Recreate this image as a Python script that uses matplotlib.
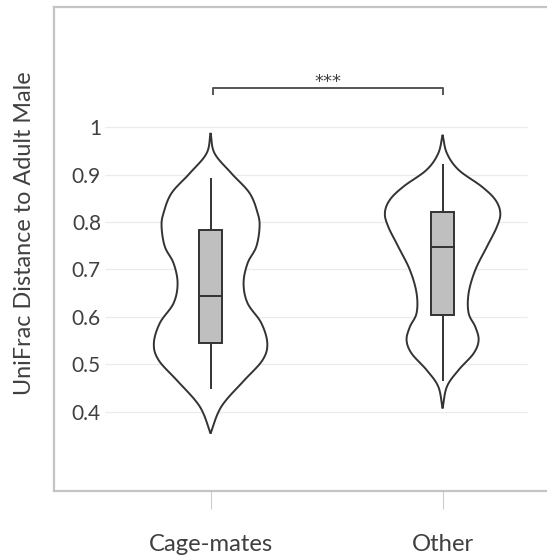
import numpy as np
import matplotlib
matplotlib.use("Agg")
import matplotlib.pyplot as plt

# ---------------- data ----------------
categories = ["Cage-mates", "Other"]
yticks = [0.4, 0.5, 0.6, 0.7, 0.8, 0.9, 1.0]
ytick_labels = ["0.4", "0.5", "0.6", "0.7", "0.8", "0.9", "1"]
ylabel = "UniFrac Distance to Adult Male"
significance = "***"

# violin outlines: value levels and relative density (max = 1)
cage_profile_y = [0.988, 0.945, 0.903, 0.861, 0.819, 0.790, 0.748, 0.713, 0.671,
                  0.629, 0.587, 0.544, 0.509, 0.467, 0.425, 0.397, 0.354]
cage_profile_d = [0.0, 0.069, 0.359, 0.676, 0.815, 0.849, 0.792, 0.641, 0.572,
                  0.641, 0.879, 0.983, 0.901, 0.589, 0.272, 0.127, 0.0]
other_profile_y = [0.984, 0.945, 0.910, 0.875, 0.847, 0.819, 0.790, 0.748, 0.699,
                   0.650, 0.608, 0.579, 0.551, 0.523, 0.488, 0.453, 0.407]
other_profile_d = [0.0, 0.075, 0.277, 0.676, 0.913, 1.0, 0.941, 0.768, 0.567,
                   0.451, 0.451, 0.567, 0.624, 0.537, 0.277, 0.075, 0.0]

# box plot statistics
q1 = [0.544, 0.604]
median = [0.645, 0.748]
q3 = [0.783, 0.821]
whisker_low = [0.451, 0.468]
whisker_high = [0.890, 0.920]

# ---------------- styling ----------------
FONT = ["Lato", "DejaVu Sans"]
plt.rcParams["font.family"] = FONT
LINE = "#333333"
TEXT = "#404040"
BOX_FILL = "#bfbfbf"
GRID = "#ebebeb"
SPINE = "#c4c4c4"
violin_half_width = 0.2487
box_half_width = 0.05


def catmull_rom(px, py, n=20):
    px = np.asarray(px, float)
    py = np.asarray(py, float)
    P = np.column_stack([px, py])
    P = np.vstack([P[0] * 2 - P[1], P, P[-1] * 2 - P[-2]])
    out = []
    t = np.linspace(0, 1, n, endpoint=False)[:, None]
    for i in range(1, len(P) - 2):
        p0, p1, p2, p3 = P[i - 1], P[i], P[i + 1], P[i + 2]
        seg = 0.5 * ((2 * p1) + (-p0 + p2) * t + (2 * p0 - 5 * p1 + 4 * p2 - p3) * t ** 2
                     + (-p0 + 3 * p1 - 3 * p2 + p3) * t ** 3)
        out.append(seg)
    out.append(P[-2][None, :])
    out = np.vstack(out)
    return out[:, 0], out[:, 1]


fig = plt.figure(figsize=(5.47, 5.56), dpi=100)
ax = fig.add_axes([53.5 / 547, 1 - 490.5 / 556, 1 - 53.5 / 547, (490.5 - 6.7) / 556])
ax.set_xlim(-0.677, 1.45)
ax.set_ylim(0.234, 1.254)

# gridlines
ax.hlines(yticks, -0.455, 1.364, color=GRID, lw=0.9, zorder=0)

profiles = [(cage_profile_y, cage_profile_d), (other_profile_y, other_profile_d)]
for i, (py, pd_) in enumerate(profiles):
    yy, dd = catmull_rom(py, pd_, n=30)
    dd = np.clip(dd, 0, None)
    xs = np.concatenate([i - dd * violin_half_width, (i + dd * violin_half_width)[::-1]])
    ys = np.concatenate([yy, yy[::-1]])
    ax.fill(xs, ys, facecolor="white", edgecolor=LINE, lw=1.4, zorder=2)
    # whiskers
    ax.plot([i, i], [whisker_low[i], q1[i]], color=LINE, lw=1.4, zorder=3)
    ax.plot([i, i], [q3[i], whisker_high[i]], color=LINE, lw=1.4, zorder=3)
    # box
    ax.add_patch(plt.Rectangle((i - box_half_width, q1[i]), 2 * box_half_width, q3[i] - q1[i],
                               facecolor=BOX_FILL, edgecolor=LINE, lw=1.4, zorder=4))
    ax.plot([i - box_half_width, i + box_half_width], [median[i], median[i]],
            color=LINE, lw=1.4, zorder=5)

# significance bracket
bx0, bx1 = 0.01, 1.0
ax.plot([bx0, bx0, bx1, bx1], [1.068, 1.083, 1.083, 1.068], color="#555555", lw=1.4,
        zorder=3, solid_capstyle="butt")
ax.text((bx0 + bx1) / 2, 1.084, significance, ha="center", va="baseline",
        fontsize=13, color=TEXT, family=["DejaVu Sans"])

# axes styling
for side in ["left", "top", "bottom"]:
    ax.spines[side].set_color(SPINE)
    ax.spines[side].set_linewidth(1.6)
ax.spines["right"].set_visible(False)

ax.set_yticks(yticks)
ax.set_yticklabels(ytick_labels)
ax.tick_params(axis="y", length=0, pad=-34.2, labelsize=15, labelcolor=TEXT)
ax.set_xticks([0, 1])
ax.set_xticklabels(categories)
ax.tick_params(axis="x", length=13, width=0.8, color="#cccccc", pad=18,
               labelsize=17.2, labelcolor=TEXT)

fig.text(25 / 547, 1 - 233 / 556, ylabel, rotation=90, ha="center", va="center",
         fontsize=16.8, color=TEXT)

fig.savefig("out.png", dpi=100)
